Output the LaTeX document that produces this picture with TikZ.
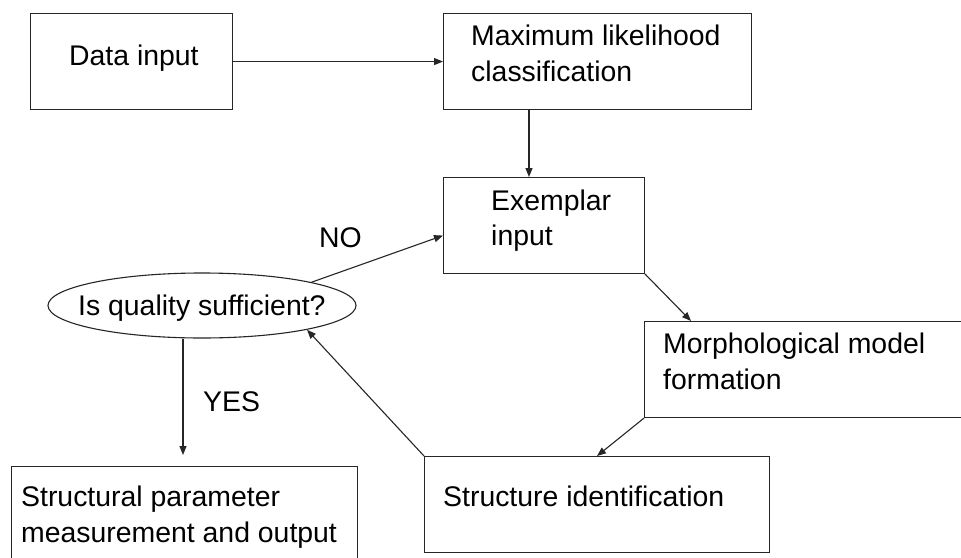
\documentclass[tikz,border=0pt]{standalone}
\usepackage{fontspec}
\setmainfont{Liberation Sans}
\usetikzlibrary{arrows.meta,shapes.geometric}
\begin{document}
\begin{tikzpicture}[x=1pt,y=-1pt,
  box/.style={draw=black!85,line width=1.1pt,rectangle,inner sep=0pt,anchor=north west},
  lbl/.style={inner sep=0pt,anchor=base west,font=\fontsize{28.4}{35}\selectfont},
  arr/.style={draw=black!85,line width=1.1pt,-{Triangle[length=9pt,width=7pt]}}]
\useasboundingbox (0,0) rectangle (961,557);
\clip (0,0) rectangle (961,557);
\fill[white] (0,0) rectangle (961,557);
% boxes
\node[box,minimum width=202pt,minimum height=96pt] (data) at (30,13) {};
\node[box,minimum width=308pt,minimum height=96pt] (max) at (443,13) {};
\node[box,minimum width=201pt,minimum height=96pt] (ex) at (443,177) {};
\node[box,minimum width=330pt,minimum height=96pt] (morph) at (644,321) {};
\node[box,minimum width=345pt,minimum height=96pt] (sid) at (424,456) {};
\node[box,minimum width=346pt,minimum height=96pt] (sp) at (11,466) {};
\node[draw=black!85,line width=1.1pt,ellipse,inner sep=0pt,minimum width=308pt,minimum height=65pt] (q) at (202,305.5) {};
% texts
\node[lbl] (tdata) at (69,65) {Data input};
\node[lbl] (tmax1) at (471,45) {Maximum likelihood};
\node[lbl] (tmax2) at (471,81) {classification};
\node[lbl] (tex1) at (491,210) {Exemplar};
\node[lbl] (tex2) at (491,245) {input};
\node[lbl] (tm1) at (663,353) {Morphological model};
\node[lbl] (tm2) at (663,389) {formation};
\node[lbl] (tsid) at (443,506) {Structure identification};
\node[lbl] (tsp1) at (21,506) {Structural parameter};
\node[lbl] (tsp2) at (21,542) {measurement and output};
\node[lbl] (tq) at (78,315) {Is quality sufficient?};
\node[lbl] (tno) at (319,247) {NO};
\node[lbl] (tyes) at (203,411) {YES};
% connectors
\draw[arr] (data.east) -- (max.west);
\draw[arr] ([xshift=86pt]max.south west) -- ([xshift=86pt]ex.north west);
\draw[arr] (ex.south east) -- ([xshift=47pt]morph.north west);
\draw[arr] (morph.south west) -- ([xshift=173pt]sid.north west);
\draw[arr] (sid.north west) -- (q.-13);
\draw[arr] (q.12) -- ([yshift=-10pt]ex.west);
\draw[arr,shorten >=11pt] ([xshift=-19pt]q.south) -- ([xshift=-19pt]q.south |- sp.north);
\end{tikzpicture}
\end{document}
